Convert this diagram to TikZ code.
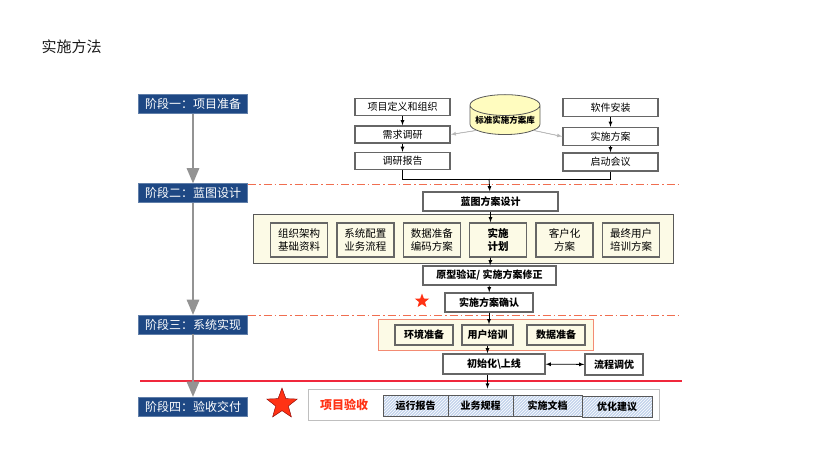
\documentclass[tikz,border=0pt]{standalone}
\usepackage{fontspec}
\setmainfont{Noto Sans CJK SC}
\usepackage{tikz}
\usetikzlibrary{arrows, shapes.geometric, patterns}

\definecolor{stageblue}{RGB}{30,72,132}
\definecolor{cream}{RGB}{252,250,230}
\definecolor{dashred}{RGB}{240,110,80}
\definecolor{linered}{RGB}{240,40,60}
\definecolor{hatchblue}{RGB}{196,212,236}
\definecolor{starred}{RGB}{255,50,20}

\begin{document}
\begin{tikzpicture}[x=1pt, y=-1pt,
    stage/.style={draw=stageblue!70!white, fill=stageblue, text=white, minimum width=109, minimum height=19, inner sep=0, font=\fontsize{12}{14}\selectfont},
    box/.style={draw=gray!80!black, line width=1.4pt, fill=white, inner sep=0, font=\fontsize{10}{12}\selectfont},
    bbox/.style={box, font=\fontsize{10}{12}\selectfont\bfseries},
    ibox/.style={box, fill=cream, align=center, font=\fontsize{10.5}{13.5}\selectfont},
    hbox/.style={draw=gray!70!black, line width=1pt, preaction={fill=hatchblue}, pattern=north east lines, pattern color=white, inner sep=0, font=\fontsize{10}{12}\selectfont\bfseries},
    flow/.style={-latex, line width=0.8pt},
    phase/.style={-triangle 45, line width=2.6pt, draw=gray!85},
    sep/.style={draw=dashred, line width=1pt, dash pattern=on 8pt off 3pt on 1.5pt off 3pt}]
  \useasboundingbox (0,0) rectangle (820,451);

  \node[anchor=west, text=gray!20!black, font=\fontsize{15}{18}\selectfont] (title) at (38,47) {实施方法};

  % stages
  \node[stage] (st1) at (193,104) {阶段一：项目准备};
  \node[stage] (st2) at (193,193) {阶段二：蓝图设计};
  \node[stage] (st3) at (193,324.5) {阶段三：系统实现};
  \node[stage] (st4) at (193,406.5) {阶段四：验收交付};

  \draw[sep] (248,184) -- (680,184);
  \draw[sep] (248,315) -- (680,315);
  \draw[draw=linered, line width=2pt] (140,381) -- (682,381);

  \draw[phase] (st1) -- (st2);
  \draw[phase] (st2) -- (st3);
  \draw[phase] (st3) -- (st4);

  % stage 1
  \node[box, minimum width=95, minimum height=17] (def) at (402.5,107) {项目定义和组织};
  \node[box, minimum width=95, minimum height=17] (req) at (402.5,134.5) {需求调研};
  \node[box, minimum width=95, minimum height=17] (rpt) at (402.5,161) {调研报告};
  \node[box, minimum width=95, minimum height=18] (soft) at (610.5,107.5) {软件安装};
  \node[box, minimum width=95, minimum height=18] (plan) at (610.5,136.5) {实施方案};
  \node[box, minimum width=95, minimum height=18] (kick) at (610.5,162) {启动会议};
  \node[cylinder, shape border rotate=90, aspect=0.35, draw=gray!70!black, line width=0.8pt, fill=yellow!25, minimum width=70, minimum height=31, inner sep=0, font=\fontsize{8.5}{10}\selectfont\bfseries] (lib) at (505,120) {标准实施方案库};
  \coordinate (join) at (489,179);

  \draw[flow] (def) -- (req);
  \draw[flow] (req) -- (rpt);
  \draw[flow] (soft) -- (plan);
  \draw[flow] (plan) -- (kick);
  \draw[flow, draw=gray!55, fill=black] (lib.200) -- (req.east);
  \draw[flow, draw=gray!55, fill=black] (lib.340) -- (plan.west);
  \draw[line width=1pt] (rpt) |- (join);
  \draw[line width=1pt] (kick) |- (join);

  % stage 2
  \node[bbox, minimum width=135, minimum height=19] (blue) at (490.5,201.5) {蓝图方案设计};
  \node[draw=gray!70!black, line width=1pt, fill=cream, minimum width=420, minimum height=49] (pan1) at (463,238.5) {};
  \foreach \t [count=\i] in {组织架构\\基础资料, 系统配置\\业务流程, 数据准备\\编码方案, \textbf{实施}\\\textbf{计划}, 客户化\\方案, 最终用户\\培训方案}
    \node[ibox, minimum width=57, minimum height=34] (s\i) at ({299+66.4*(\i-1)},240) {\t};
  \node[bbox, minimum width=133, minimum height=19] (proto) at (489.5,275.5) {原型验证/ 实施方案修正};
  \node[bbox, minimum width=88, minimum height=19] (conf) at (489,302.5) {实施方案确认};
  \node[star, star points=5, star point ratio=2.4, fill=starred, inner sep=0, minimum size=15] (star1) at (422,301) {};

  \draw[flow] (join) -- (blue);
  \draw[flow] (blue.south) -- (blue.south |- s4.north);
  \draw[flow] (blue.south |- s4.south) -- (proto);
  \draw[flow] (proto) -- (conf);

  % stage 3
  \node[draw=dashred!80, line width=0.8pt, fill=cream, minimum width=215, minimum height=31] (pan3) at (485.5,334.5) {};
  \node[bbox, fill=cream, minimum width=58, minimum height=20] (env) at (424,335) {环境准备};
  \node[bbox, fill=cream, minimum width=51, minimum height=20] (train) at (487.5,335) {用户培训};
  \node[bbox, fill=cream, minimum width=58, minimum height=20] (data) at (556,335) {数据准备};
  \node[bbox, minimum width=102, minimum height=20] (init) at (494,364) {初始化\textbackslash 上线};
  \node[bbox, minimum width=58, minimum height=21] (tune) at (614,364.5) {流程调优};

  \draw[flow] (conf.south) -- (conf.south |- train.north);
  \draw[flow] (train.south) -- (train.south |- init.north);
  \draw[flow, latex-latex] (init) -- (tune);

  % stage 4
  \node[draw=gray!50, line width=1pt, fill=white, minimum width=351, minimum height=31] (pan4) at (483.5,404.5) {};
  \node[star, star points=5, star point ratio=2.4, draw=red!50!black, fill=starred, inner sep=0, minimum size=32] (star2) at (282,404) {};
  \node[text=starred, font=\fontsize{12}{14}\selectfont\bfseries] (accept) at (344,405) {项目验收};
  \node[hbox, minimum width=65, minimum height=21] (h1) at (415.5,405.5) {运行报告};
  \node[hbox, minimum width=65, minimum height=21] (h2) at (480.5,405.5) {业务规程};
  \node[hbox, minimum width=69, minimum height=21] (h3) at (547.5,405.5) {实施文档};
  \node[hbox, minimum width=70, minimum height=21] (h4) at (617,407) {优化建议};

  \draw[flow] (train.south |- init.south) -- (train.south |- pan4.north);
\end{tikzpicture}
\end{document}
